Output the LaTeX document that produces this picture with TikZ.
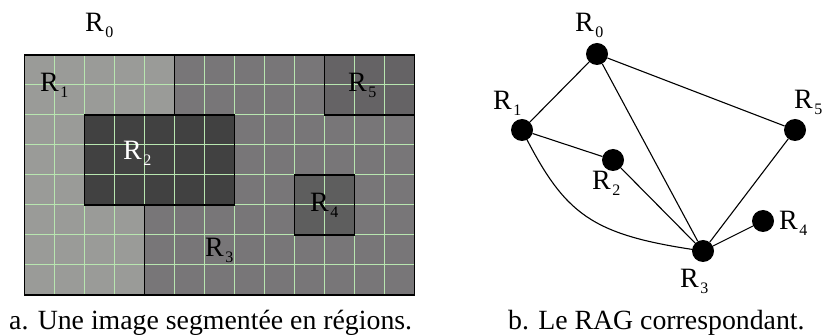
\documentclass[tikz,border=0pt]{standalone}
\usepackage{fontspec}
\setmainfont{Liberation Serif}
\definecolor{rone}{HTML}{9A9B98}
\definecolor{rtwo}{HTML}{414141}
\definecolor{rthree}{HTML}{787678}
\definecolor{rfour}{HTML}{5E5E5E}
\definecolor{rfive}{HTML}{656365}
\definecolor{gridgreen}{HTML}{B8E6B0}
\newcommand{\Rlab}[1]{R\kern1.4pt\raisebox{-6pt}{\fontsize{16}{16}\selectfont #1}}
\tikzset{
  lab/.style={anchor=base west, inner sep=0pt, font=\fontsize{28}{28}\selectfont},
  captext/.style={anchor=base west, inner sep=0pt, font=\fontsize{27.8}{30}\selectfont},
  vtx/.style={circle, fill=black, minimum size=22pt, inner sep=0pt},
  link/.style={line width=1.1pt},
  bound/.style={line width=1.3pt, black},
  gline/.style={line width=1pt, gridgreen}
}
\begin{document}
\begin{tikzpicture}[x=1pt,y=-1pt]
\useasboundingbox (0,0) rectangle (824,336);
% ---------- segmented image ----------
\begin{scope}[shift={(24.3,55)}, x=30pt, y=-30pt]
  \fill[rthree] (0,0) rectangle (13,8);
  \fill[rone] (0,0) -- (5,0) -- (5,2) -- (2,2) -- (2,5) -- (4,5) -- (4,8) -- (0,8) -- cycle;
  \fill[rtwo] (2,2) rectangle (7,5);
  \fill[rfour] (9,4) rectangle (11,6);
  \fill[rfive] (10,0) rectangle (13,2);
  \foreach \c in {1,...,12} \draw[gline] (\c,0) -- (\c,8);
  \foreach \r in {1,...,7} \draw[gline] (0,\r) -- (13,\r);
  \draw[bound] (0,0) rectangle (13,8);
  \draw[bound] (5,0) -- (5,2);
  \draw[bound] (4,5) -- (4,8);
  \draw[bound] (2,2) rectangle (7,5);
  \draw[bound] (9,4) rectangle (11,6);
  \draw[bound] (10,0) rectangle (13,2);
\end{scope}
\node[lab] (i0) at (85,32) {\Rlab{0}};
\node[lab] (i1) at (40,92) {\Rlab{1}};
\node[lab, text=white] (i2) at (123,160) {\Rlab{2}};
\node[lab] (i3) at (205,257) {\Rlab{3}};
\node[lab] (i4) at (310,212) {\Rlab{4}};
\node[lab] (i5) at (348,92) {\Rlab{5}};
% ---------- RAG ----------
\node[vtx] (g0) at (597,54) {};
\node[vtx] (g1) at (522,130) {};
\node[vtx] (g2) at (613,160) {};
\node[vtx] (g3) at (703,251) {};
\node[vtx] (g4) at (763,221) {};
\node[vtx] (g5) at (795,130) {};
\draw[link] (g0) -- (g1);
\draw[link] (g0) -- (g3);
\draw[link] (g0) -- (g5);
\draw[link] (g1) -- (g2);
\draw[link] (g2) -- (g3);
\draw[link] (g5) -- (g3);
\draw[link] (g3) -- (g4);
\draw[link] (g1.center) .. controls (565,215) and (590,235) .. (g3.center);
\node[lab] (l0) at (575,32) {\Rlab{0}};
\node[lab] (l1) at (493,110) {\Rlab{1}};
\node[lab] (l2) at (592,190) {\Rlab{2}};
\node[lab] (l3) at (680,288) {\Rlab{3}};
\node[lab] (l4) at (779,230) {\Rlab{4}};
\node[lab] (l5) at (794,109) {\Rlab{5}};
% ---------- captions ----------
\node[captext] (ca) at (9,329.5) {a. Une image segmentée en régions.};
\node[captext] (cb) at (508,329.5) {b. Le RAG correspondant.};
\end{tikzpicture}
\end{document}
